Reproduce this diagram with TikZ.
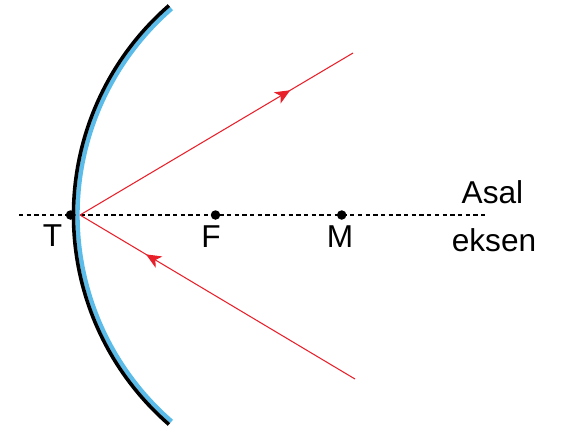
\documentclass[tikz,border=0pt]{standalone}
\usepackage{fontspec}
\setmainfont{Liberation Sans}
\usetikzlibrary{arrows.meta,decorations.markings}
\definecolor{rayred}{HTML}{E8202A}
\definecolor{mirrorblue}{HTML}{5BBCEA}
\tikzset{
  ray/.style={draw=rayred, line width=0.9pt},
  midarrow/.style={postaction={decorate},decoration={markings,
      mark=at position #1 with {\arrow{Stealth[length=15*0.03cm,width=13*0.03cm,inset=4*0.03cm]}}}},
  dot/.style={circle, fill=black, inner sep=0pt, minimum size=9.5*0.03cm},
  lbl/.style={font=\fontsize{27}{32}\selectfont, inner sep=0pt, anchor=base},
  axis/.style={line width=0.9pt, dash pattern=on 4.3*0.03cm off 3.4*0.03cm},
}
\begin{document}
\begin{tikzpicture}[x=0.03cm,y=-0.03cm]
\useasboundingbox (0,0) rectangle (561,435);
% axis
\coordinate (axL) at (19,215);
\coordinate (axR) at (485,215);
\draw[axis] (axL) -- (axR);
% mirror
\draw[mirrorblue, line width=4.4*0.03cm] (351,215) ++(229:273.5) arc[start angle=229, end angle=131, radius=273.5];
\draw[black, line width=3.6*0.03cm] (351,215) ++(229:277.5) arc[start angle=229, end angle=131, radius=277.5];
% points
\node[dot] (T) at (70.5,215) {};
\node[dot] (F) at (215.5,215) {};
\node[dot] (M) at (341.7,215) {};
\coordinate (O) at (80,215);
\coordinate (U) at (353,53);
\coordinate (L) at (355,379);
% rays
\draw[ray, midarrow=0.77] (O) -- (U);
\draw[ray, midarrow=0.76] (L) -- (O);
% labels
\node[lbl] (tT) at (52.5,246) {T};
\node[lbl] (tF) at (211,247.5) {F};
\node[lbl] (tM) at (340,247.5) {M};
\node[lbl] (tA) at (492.5,203) {Asal};
\node[lbl] (tE) at (494,251.5) {eksen};
\end{tikzpicture}
\end{document}
